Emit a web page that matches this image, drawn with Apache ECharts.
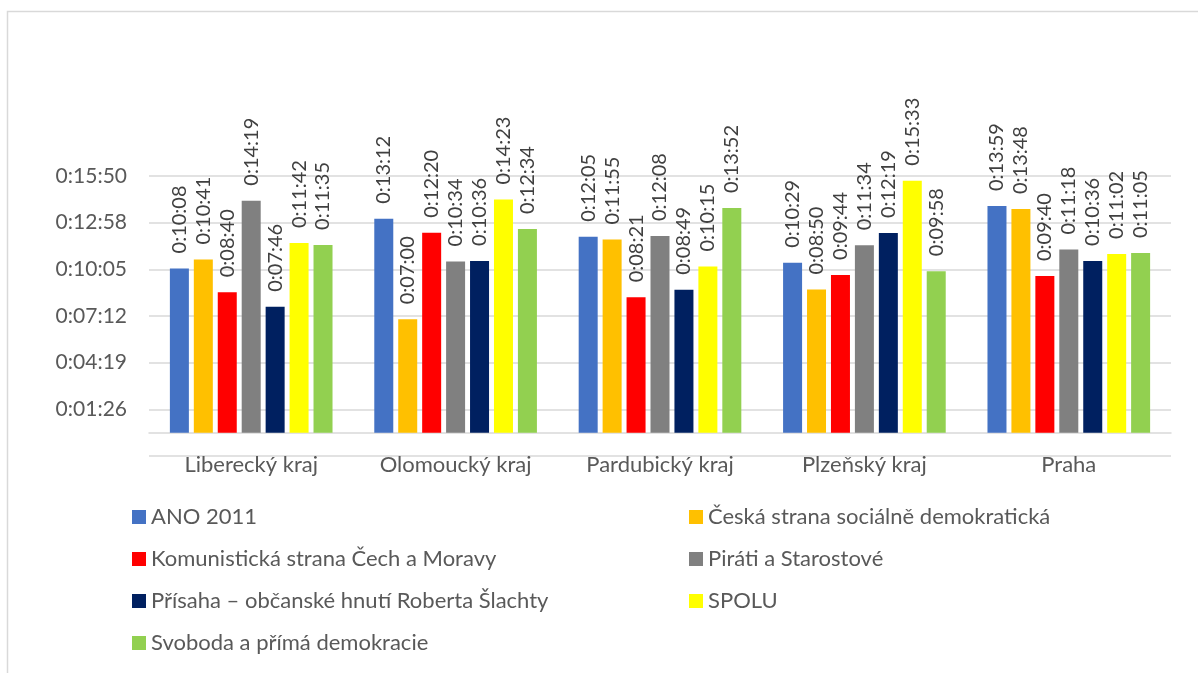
<!DOCTYPE html>
<html>
<head>
<meta charset="utf-8">
<script src="https://cdn.jsdelivr.net/npm/echarts@6/dist/echarts.min.js"></script>
<style>
  html, body { margin: 0; padding: 0; background: #fff; }
  #main { width: 1198px; height: 673px; }
</style>
</head>
<body>
<div id="main"></div>
<script>
// kraje
var categories = ['Liberecký kraj', 'Olomoucký kraj', 'Pardubický kraj', 'Plzeňský kraj', 'Praha'];
var parties = [
  'ANO 2011',
  'Česká strana sociálně demokratická',
  'Komunistická strana Čech a Moravy',
  'Piráti a Starostové',
  'Přísaha – občanské hnutí Roberta Šlachty',
  'SPOLU',
  'Svoboda a přímá demokracie'
];
var colors = ['#4472C4', '#FFC000', '#FF0000', '#808080', '#002060', '#FFFF00', '#92D050'];

// časy (h:mm:ss) po krajích
var ano      = ['0:10:08', '0:13:12', '0:12:05', '0:10:29', '0:13:59'];
var cssd     = ['0:10:41', '0:07:00', '0:11:55', '0:08:50', '0:13:48'];
var kscm     = ['0:08:40', '0:12:20', '0:08:21', '0:09:44', '0:09:40'];
var pirati   = ['0:14:19', '0:10:34', '0:12:08', '0:11:34', '0:11:18'];
var prisaha  = ['0:07:46', '0:10:36', '0:08:49', '0:12:19', '0:10:36'];
var spolu    = ['0:11:42', '0:14:23', '0:10:15', '0:15:33', '0:11:02'];
var svoboda  = ['0:11:35', '0:12:34', '0:13:52', '0:09:58', '0:11:05'];
var values = [ano, cssd, kscm, pirati, prisaha, spolu, svoboda];

// osa y - Excel dny 0.001, 0.003 ... prevedeno na sekundy
var tickLabels = [86.4, 259.2, 432, 604.8, 777.6, 950.4];
var gridTicks = [-86.4].concat(tickLabels);

function toSec(s) {
  var p = s.split(':');
  return (+p[0]) * 3600 + (+p[1]) * 60 + (+p[2]);
}
function fmt(v) {
  var t = Math.round(v);
  var h = Math.floor(t / 3600);
  var m = Math.floor((t % 3600) / 60);
  var s = t % 60;
  return h + ':' + (m < 10 ? '0' : '') + m + ':' + (s < 10 ? '0' : '') + s;
}

var FONT = 'Lato';
var TXT = '#595959';

var series = parties.map(function (name, i) {
  return {
    name: name,
    type: 'bar',
    barWidth: 19,
    barGap: '26%',
    itemStyle: { color: colors[i] },
    label: {
      show: true,
      position: 'top',
      rotate: 90,
      align: 'left',
      verticalAlign: 'middle',
      distance: 15,
      color: '#404040',
      fontFamily: FONT,
      fontSize: 20,
      formatter: function (p) { return fmt(p.value); }
    },
    data: values[i].map(toSec)
  };
});

var legendText = { color: TXT, fontSize: 22, fontFamily: FONT, lineHeight: 24 };

var myChart = echarts.init(document.getElementById('main'));
myChart.setOption({
  animation: false,
  backgroundColor: '#fff',
  color: colors,
  textStyle: { fontFamily: FONT },
  graphic: [{
    type: 'rect',
    shape: { x: 7.5, y: 11.5, width: 1200, height: 680 },
    style: { fill: 'none', stroke: '#d9d9d9', lineWidth: 1.5 },
    silent: true
  }],
  grid: { left: 149, right: 27, top: 176, bottom: 217 },
  legend: [{
    orient: 'vertical',
    left: 132,
    top: 505,
    padding: 0,
    itemWidth: 14,
    itemHeight: 14,
    itemGap: 18,
    icon: 'rect',
    textStyle: legendText,
    data: [parties[0], parties[2], parties[4], parties[6]]
  }, {
    orient: 'vertical',
    left: 689,
    top: 505,
    padding: 0,
    itemWidth: 14,
    itemHeight: 14,
    itemGap: 18,
    icon: 'rect',
    textStyle: legendText,
    data: [parties[1], parties[3], parties[5]]
  }],
  xAxis: {
    type: 'category',
    data: categories,
    axisLine: { onZero: true, lineStyle: { color: '#d9d9d9', width: 1.5 } },
    axisTick: { show: false },
    axisLabel: { color: TXT, fontSize: 22, fontFamily: FONT, margin: -2 }
  },
  yAxis: {
    type: 'value',
    min: -86.4,
    max: 950.4,
    axisLine: { show: false },
    axisTick: { show: false, customValues: gridTicks },
    splitLine: { show: true, lineStyle: { color: '#d9d9d9', width: 1.5 } },
    axisLabel: {
      customValues: tickLabels,
      color: TXT,
      fontSize: 21,
      fontFamily: FONT,
      margin: 22,
      formatter: function (v) { return fmt(v); }
    }
  },
  series: series
});
</script>
</body>
</html>
